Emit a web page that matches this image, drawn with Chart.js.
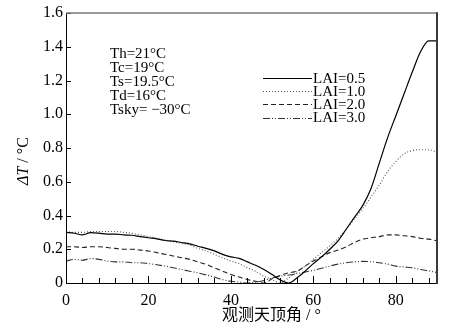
<!DOCTYPE html>
<html>
<head>
<meta charset="utf-8">
<script src="https://cdn.jsdelivr.net/npm/chart.js@4"></script>
<style>
  body { margin: 0; background: #fff; }
  #wrap { width: 454px; height: 334px; }
</style>
</head>
<body>
<div id="wrap"><canvas id="chart" width="454" height="334"></canvas></div>
<script>
// viewing zenith angle (deg)
const angles = [0, 2, 4, 6, 8, 10, 12, 14, 16, 18, 20, 22, 24, 26, 28, 30, 32, 34, 36, 38, 40, 42, 44,
    46, 48, 50, 52, 54, 56, 58, 60, 62, 64, 66, 68, 70, 72, 74, 76, 78, 80, 82, 84, 86, 88, 90];

// delta T (deg C) for each LAI
const lai05 = [0.30, 0.295, 0.285, 0.298, 0.295, 0.29, 0.29, 0.285, 0.283, 0.275, 0.268, 0.262, 0.252,
    0.248, 0.24, 0.232, 0.218, 0.205, 0.19, 0.17, 0.155, 0.146, 0.125, 0.105, 0.08, 0.05, 0.018, 0.0,
    0.03, 0.07, 0.115, 0.155, 0.20, 0.25, 0.32, 0.39, 0.46, 0.56, 0.71, 0.86, 0.99, 1.12, 1.25, 1.37, 1.435, 1.435];
const lai10 = [0.305, 0.30, 0.30, 0.305, 0.305, 0.305, 0.305, 0.30, 0.295, 0.285, 0.275, 0.265, 0.255,
    0.245, 0.235, 0.225, 0.205, 0.19, 0.17, 0.15, 0.13, 0.115, 0.09, 0.07, 0.04, 0.02, 0.0, 0.03,
    0.065, 0.10, 0.14, 0.18, 0.22, 0.265, 0.32, 0.38, 0.44, 0.51, 0.58, 0.66, 0.72, 0.765, 0.785, 0.79, 0.79, 0.775];
const lai20 = [0.215, 0.215, 0.21, 0.215, 0.215, 0.21, 0.205, 0.20, 0.20, 0.195, 0.19, 0.18, 0.17,
    0.16, 0.15, 0.14, 0.125, 0.11, 0.09, 0.07, 0.05, 0.035, 0.02, 0.01, 0.0, 0.025, 0.045, 0.06,
    0.07, 0.10, 0.13, 0.155, 0.18, 0.195, 0.215, 0.24, 0.26, 0.268, 0.275, 0.285, 0.285, 0.28, 0.275, 0.265, 0.26, 0.25];
const lai30 = [0.13, 0.14, 0.135, 0.145, 0.14, 0.13, 0.125, 0.125, 0.12, 0.12, 0.115, 0.108, 0.10,
    0.09, 0.08, 0.07, 0.06, 0.048, 0.035, 0.02, 0.01, 0.005, 0.0, 0.005, 0.015, 0.03, 0.04, 0.047,
    0.055, 0.065, 0.075, 0.087, 0.10, 0.112, 0.12, 0.125, 0.128, 0.126, 0.12, 0.112, 0.10, 0.095, 0.09, 0.08, 0.072, 0.062];

const seriesNames = ['LAI=0.5', 'LAI=1.0', 'LAI=2.0', 'LAI=3.0'];
const xTickLabels = [0, 20, 40, 60, 80];
const yTickLabels = [0, 0.2, 0.4, 0.6, 0.8, 1.0, 1.2, 1.4, 1.6];
const noteLines = ['Th=21°C', 'Tc=19°C', 'Ts=19.5°C', 'Td=16°C', 'Tsky= −30°C'];

const serif = '"Liberation Serif", "Times New Roman", "Noto Sans CJK SC", serif';

function pts(ys) {
    return angles.map((a, i) => ({ x: a, y: ys[i] }));
}

const styles = [
    { color: '#000', dash: [], width: 1.2 },
    { color: '#555', dash: [1, 2], width: 1.1 },
    { color: '#222', dash: [5, 3], width: 1.1 },
    { color: '#333', dash: [7, 2, 1, 2, 1, 2], width: 1.1 }
];

const datasets = [lai05, lai10, lai20, lai30].map((ys, i) => ({
    label: seriesNames[i],
    data: pts(ys),
    borderColor: styles[i].color,
    borderDash: styles[i].dash,
    borderWidth: styles[i].width,
    pointRadius: 0,
    cubicInterpolationMode: 'monotone',
    fill: false
}));

// frame, inward ticks, notes, legend and axis titles
const extras = {
    id: 'extras',
    afterDraw(chart) {
        const ctx = chart.ctx;
        const a = chart.chartArea;
        const xs = chart.scales.x, ys = chart.scales.y;
        ctx.save();

        // ticks
        ctx.strokeStyle = '#000';
        ctx.lineWidth = 1;
        ctx.setLineDash([]);
        for (let v = 4; v <= 88; v += 4) {
            const px = Math.round(xs.getPixelForValue(v)) + 0.5;
            const len = v % 20 === 0 ? 7 : 5;
            ctx.beginPath();
            ctx.moveTo(px, a.bottom);
            ctx.lineTo(px, a.bottom - len);
            ctx.stroke();
        }
        yTickLabels.forEach(v => {
            const py = Math.round(ys.getPixelForValue(v)) + 0.5;
            ctx.beginPath();
            ctx.moveTo(a.left, py);
            ctx.lineTo(a.left + 5, py);
            ctx.stroke();
        });

        // frame
        ctx.strokeStyle = '#000';
        ctx.lineWidth = 1;
        ctx.beginPath();
        ctx.moveTo(a.left + 0.5, a.top);
        ctx.lineTo(a.left + 0.5, a.bottom + 0.5);
        ctx.lineTo(a.right, a.bottom + 0.5);
        ctx.stroke();
        ctx.strokeStyle = '#7a7a7a';
        ctx.lineWidth = 1.5;
        ctx.beginPath();
        ctx.moveTo(a.left, a.top);
        ctx.lineTo(a.right, a.top);
        ctx.stroke();
        ctx.strokeStyle = '#3a3a3a';
        ctx.lineWidth = 2;
        ctx.beginPath();
        ctx.moveTo(a.right, a.top - 0.75);
        ctx.lineTo(a.right, a.bottom + 1);
        ctx.stroke();

        // notes
        ctx.fillStyle = '#000';
        ctx.font = '15px ' + serif;
        ctx.textAlign = 'left';
        ctx.textBaseline = 'alphabetic';
        noteLines.forEach((t, i) => ctx.fillText(t, 110, 57.5 + i * 14.2));

        // legend
        seriesNames.forEach((name, i) => {
            const base = 82.5 + i * 13.2;
            const ly = Math.round(base - 4.5) + 0.5;
            ctx.strokeStyle = styles[i].color;
            ctx.lineWidth = styles[i].width;
            ctx.setLineDash(styles[i].dash);
            ctx.beginPath();
            ctx.moveTo(263, ly);
            ctx.lineTo(312, ly);
            ctx.stroke();
            ctx.fillText(name, 313, base);
        });
        ctx.setLineDash([]);

        // x title
        ctx.font = '16px ' + serif;
        ctx.textAlign = 'left';
        ctx.fillText('观测天顶角 / °', 222, 320);

        // y title (rotated)
        ctx.translate(28, 185);
        ctx.rotate(-Math.PI / 2);
        ctx.textAlign = 'left';
        ctx.font = 'italic 16px ' + serif;
        ctx.fillText('ΔT', 0, 0);
        const w = ctx.measureText('ΔT').width;
        ctx.font = '16px ' + serif;
        ctx.fillText(' / °C', w, 0);
        ctx.restore();
    }
};

new Chart(document.getElementById('chart'), {
    type: 'line',
    data: { datasets },
    options: {
        responsive: false,
        animation: false,
        devicePixelRatio: 1,
        layout: { padding: { left: 0, top: 13, right: 17, bottom: 0 } },
        plugins: { legend: { display: false }, tooltip: { enabled: false } },
        scales: {
            x: {
                type: 'linear',
                min: 0,
                max: 90,
                afterFit(s) { s.height = 51; },
                afterBuildTicks(s) { s.ticks = xTickLabels.map(v => ({ value: v })); },
                grid: { display: false, drawTicks: false },
                border: { display: false },
                ticks: {
                    color: '#000',
                    padding: 8,
                    maxRotation: 0,
                    autoSkip: false,
                    font: { family: serif, size: 16 }
                }
            },
            y: {
                type: 'linear',
                min: 0,
                max: 1.6,
                afterFit(s) { s.width = 66; },
                afterBuildTicks(s) { s.ticks = yTickLabels.map(v => ({ value: v })); },
                grid: { display: false, drawTicks: false },
                border: { display: false },
                ticks: {
                    color: '#000',
                    padding: 3,
                    font: { family: serif, size: 16 },
                    callback: v => v === 0 ? '0' : v.toFixed(1)
                }
            }
        }
    },
    plugins: [extras]
});
</script>
</body>
</html>
